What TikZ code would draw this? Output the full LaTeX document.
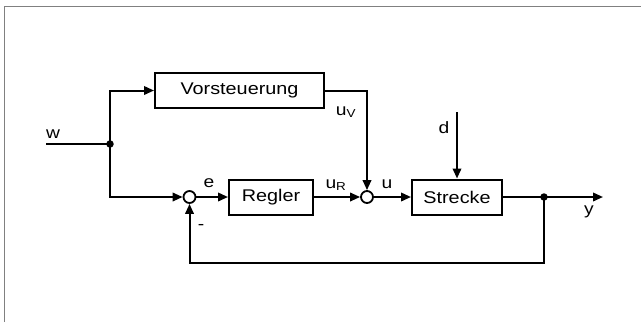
\documentclass[tikz,border=0pt]{standalone}
\usepackage{fontspec}
\setmainfont[FakeStretch=1.17]{Liberation Sans}
\usetikzlibrary{arrows.meta}
\begin{document}
\begin{tikzpicture}[x=1bp,y=-1bp,
  line width=2bp,
  blk/.style={draw,rectangle,minimum height=35bp,inner sep=0pt,font=\fontsize{17}{20}\selectfont},
  sumc/.style={draw,circle,minimum size=12bp,inner sep=0pt,line width=1.8bp},
  dotc/.style={fill,circle,minimum size=7.5bp,inner sep=0pt},
  lbl/.style={font=\fontsize{16.5}{19}\selectfont,inner sep=0pt},
  arr/.style={-{Triangle[length=10bp,width=8.5bp]}}]
\useasboundingbox (0,0) rectangle (641,322);
\draw[gray,line width=1.8bp] (4.5,322) -- (4.5,6.5) -- (641,6.5);
\node[blk,minimum width=169bp] (vor) at (239.5,90.5) {Vorsteuerung};
\node[blk,minimum width=84bp] (reg) at (271,197) {Regler};
\node[blk,minimum width=90bp] (str) at (457,197) {Strecke};
\node[sumc] (s1) at (189.5,197) {};
\node[sumc] (s2) at (367,197) {};
\node[dotc] (j1) at (110,144) {};
\node[dotc] (j2) at (544,197) {};
\coordinate (win) at (46,144);
\coordinate (yout) at (603,197);
\coordinate (dtop) at (457,112);
\coordinate (fb1) at (544,263);
\coordinate (fb2) at (189.5,263);
\coordinate (uvc) at (367,90.5);
\draw (win) -- (j1.center);
\draw[arr] (j1.center) |- (vor.west);
\draw[arr] (j1.center) |- (s1.west);
\draw[arr] (s1.east) -- (reg.west);
\draw[arr] (reg.east) -- (s2.west);
\draw[arr] (vor.east) -- (uvc) -- (s2.north);
\draw[arr] (s2.east) -- (str.west);
\draw[arr] (dtop) -- (str.north);
\draw (str.east) -- (j2.center);
\draw[arr] (j2.center) -- (yout);
\draw[arr] (j2.center) -- (fb1) -- (fb2) -- (s1.south);
\node[lbl] (lw) at (53,134) {w};
\node[lbl] (le) at (209,183) {e};
\node[lbl] (lm) at (201,227) {-};
\node[lbl] (lur) at (336,185) {u\textsubscript{R}};
\node[lbl] (lu) at (387,184) {u};
\node[lbl] (luv) at (346,112) {u\textsubscript{V}};
\node[lbl] (ld) at (444,128) {d};
\node[lbl] (ly) at (589,212) {y};
\end{tikzpicture}
\end{document}
